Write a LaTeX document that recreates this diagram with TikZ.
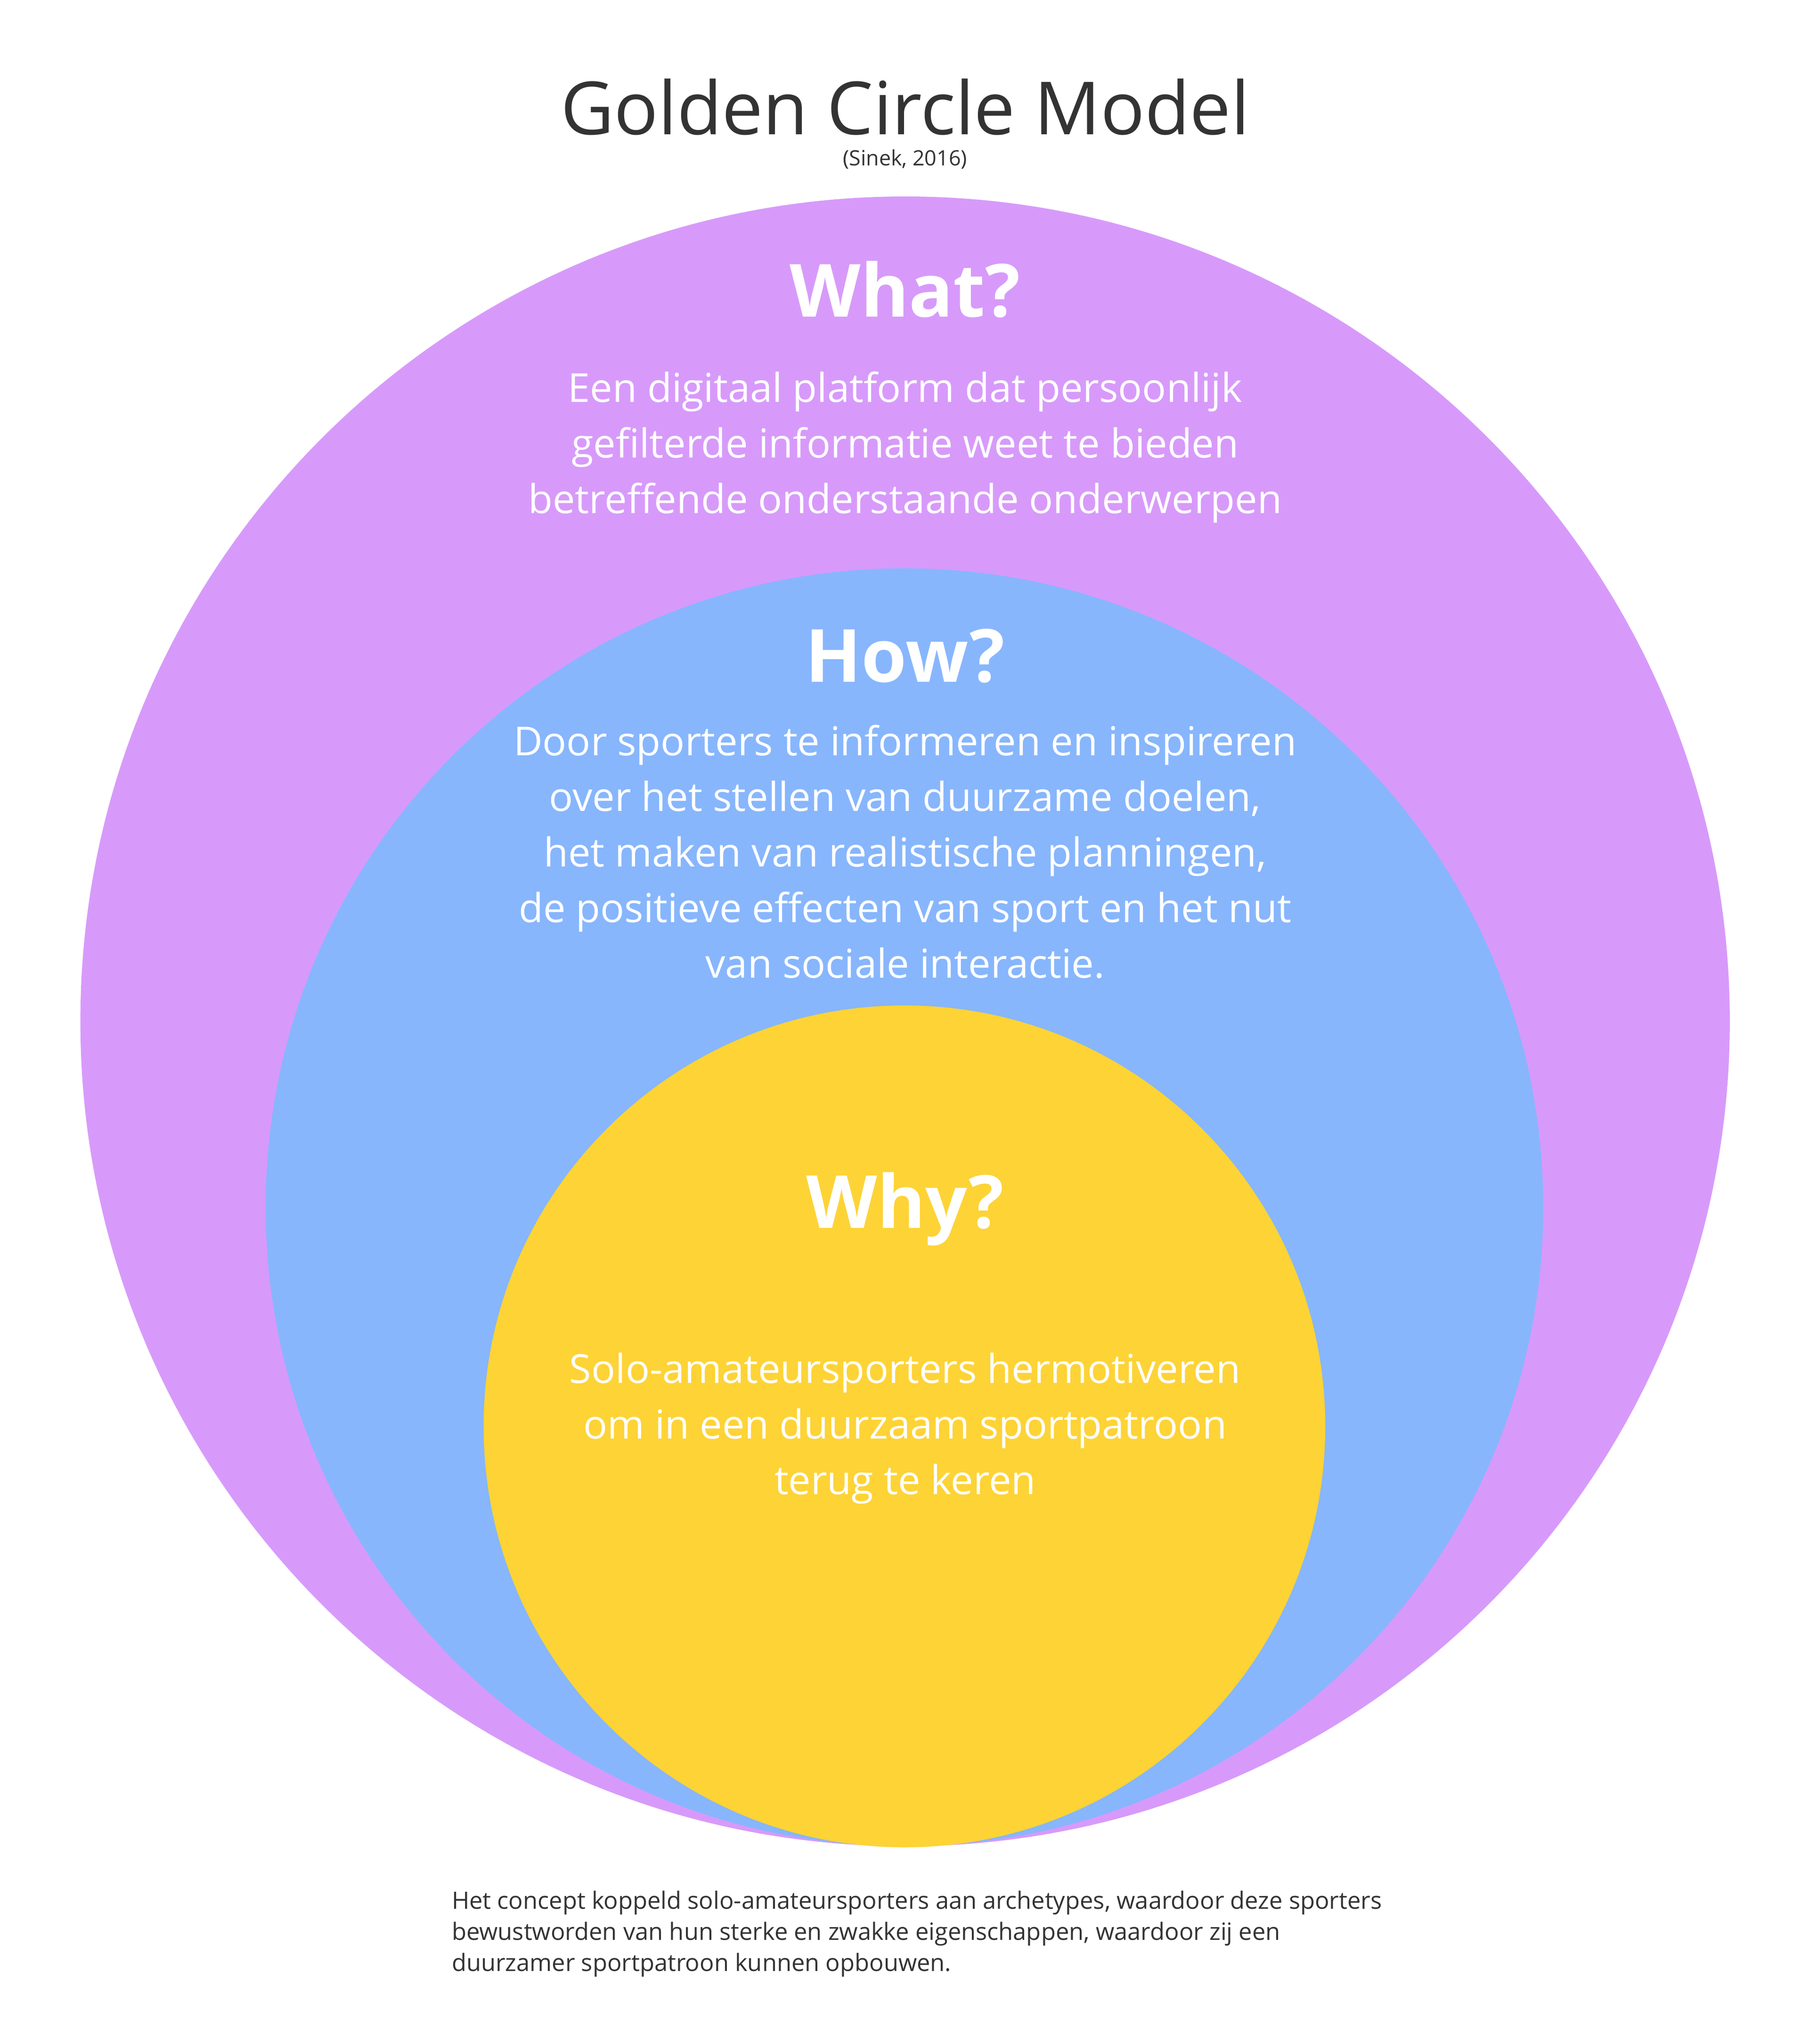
\documentclass[tikz,border=0pt]{standalone}
\usepackage{fontspec}
\setmainfont{Open Sans}
\usetikzlibrary{positioning}
\definecolor{whatcol}{HTML}{D79AFA}
\definecolor{howcol}{HTML}{87B6FD}
\definecolor{whycol}{HTML}{FDD336}
\definecolor{inkcol}{HTML}{333333}
\begin{document}
\begin{tikzpicture}[x=0.01cm,y=-0.01cm,
		ring/.style={circle,draw=none,inner sep=0pt},
		head/.style={text=white,font=\fontsize{16}{19}\selectfont\bfseries},
		body/.style={text=white,align=center,font=\fontsize{8.7}{12.1}\selectfont}
		]
		\useasboundingbox (0,0) rectangle (1387,1567);

		\node[ring,fill=whatcol,minimum size=12.64cm] (what) at (694,783) {};
		\node[ring,fill=howcol,minimum size=9.79cm] (how) at (693.5,925.5) {};
		\node[ring,fill=whycol,minimum size=6.45cm] (why) at (693.5,1093.5) {};

		\node[text=inkcol,font=\fontsize{16}{19}\selectfont] (title) at (694,82) {Golden Circle Model};
		\node[text=inkcol,font=\fontsize{4.6}{6}\selectfont] (src) at (694,122) {(Sinek, 2016)};

		\node[head] (whathead) at (694,222) {What?};
		\node[body] (whattext) at (694,343) {Een digitaal platform dat persoonlijk\\gefilterde informatie weet te bieden\\betreffende onderstaande onderwerpen};

		\node[head] (howhead) at (694,503) {How?};
		\node[body] (howtext) at (694,653) {Door sporters te informeren en inspireren\\over het stellen van duurzame doelen,\\het maken van realistische planningen,\\de positieve effecten van sport en het nut\\van sociale interactie.};

		\node[head] (whyhead) at (694,927) {Why?};
		\node[body] (whytext) at (694,1095) {Solo-amateursporters hermotiveren\\om in een duurzaam sportpatroon\\terug te keren};

		\node[text=inkcol,align=left,anchor=north west,font=\fontsize{5.2}{6.8}\selectfont] (note) at (334,1437) {Het concept koppeld solo-amateursporters aan archetypes, waardoor deze sporters\\bewustworden van hun sterke en zwakke eigenschappen, waardoor zij een\\duurzamer sportpatroon kunnen opbouwen.};
	\end{tikzpicture}
\end{document}
